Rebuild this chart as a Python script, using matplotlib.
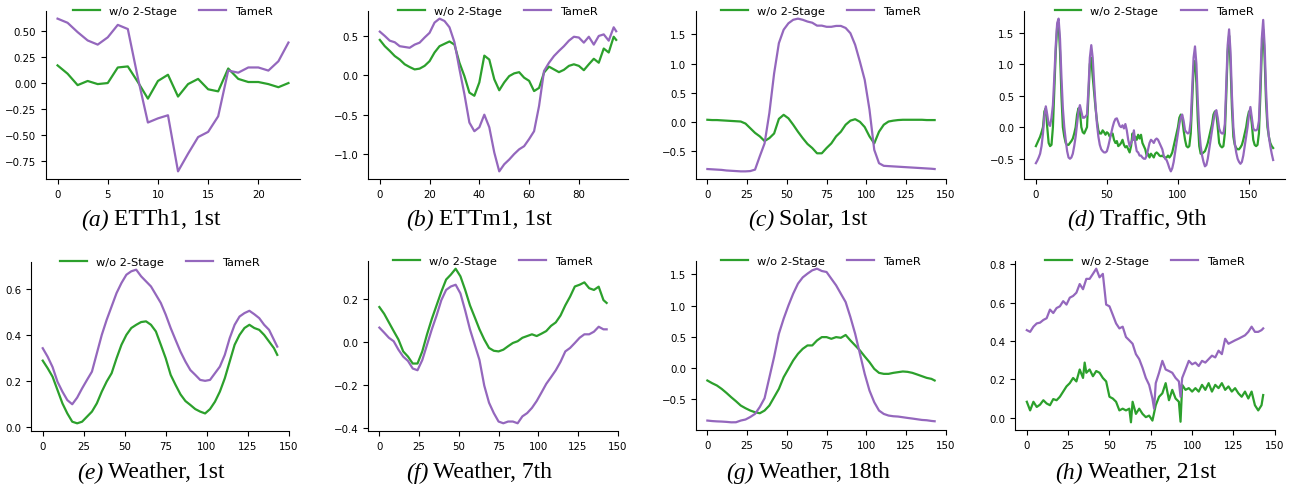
import numpy as np
import matplotlib as mpl

mpl.use("Agg")
import matplotlib.pyplot as plt
from matplotlib.ticker import MultipleLocator

# ---- data (normalised series) ----
labels = ["w/o 2-Stage", "TameR"]
captions = ["(a)", "(b)", "(c)", "(d)", "(e)", "(f)", "(g)", "(h)"]
names = ["ETTh1, 1st", "ETTm1, 1st", "Solar, 1st", "Traffic, 9th",
         "Weather, 1st", "Weather, 7th", "Weather, 18th", "Weather, 21st"]

# (a) ETTh1, 24 steps
x_a = list(range(24))
a_wo = [0.17, 0.09, -0.02, 0.02, -0.01, 0.00, 0.15, 0.16, 0.01, -0.15, 0.02, 0.08,
        -0.13, -0.01, 0.04, -0.06, -0.08, 0.14, 0.04, 0.01, 0.01, -0.01, -0.04, 0.00]
a_tamer = [0.62, 0.58, 0.49, 0.41, 0.37, 0.44, 0.56, 0.52, 0.05, -0.38, -0.34, -0.31,
           -0.85, -0.68, -0.52, -0.47, -0.32, 0.12, 0.10, 0.15, 0.15, 0.12, 0.21, 0.39]

# (b) ETTm1, 96 steps (every 2nd step)
x_b = list(range(0, 96, 2)) + [95]
b_wo = [0.45, 0.37, 0.31, 0.245, 0.20, 0.14, 0.105, 0.075, 0.085, 0.12, 0.18, 0.29,
        0.37, 0.40, 0.43, 0.39, 0.16, -0.01, -0.22, -0.26, -0.09, 0.25, 0.20, -0.05,
        -0.19, -0.09, -0.01, 0.025, 0.04, -0.03, -0.07, -0.20, -0.16, 0.035, 0.11, 0.075,
        0.04, 0.07, 0.12, 0.14, 0.12, 0.065, 0.14, 0.21, 0.16, 0.34, 0.29, 0.49, 0.45]
b_tamer = [0.555, 0.50, 0.44, 0.42, 0.37, 0.36, 0.35, 0.39, 0.415, 0.48, 0.54, 0.67,
           0.72, 0.69, 0.61, 0.42, 0.08, -0.24, -0.60, -0.71, -0.66, -0.50, -0.66, -0.98,
           -1.22, -1.13, -1.07, -1.00, -0.94, -0.90, -0.81, -0.71, -0.39, 0.055, 0.16, 0.245,
           0.31, 0.37, 0.44, 0.49, 0.48, 0.415, 0.49, 0.39, 0.50, 0.52, 0.44, 0.61, 0.56]

# shared grid for the 144-step panels (every 3rd step)
x_144 = list(range(0, 142, 3)) + [143]

# (c) Solar
c_wo = [0.035, 0.03, 0.03, 0.025, 0.02, 0.015, 0.01, 0.005, -0.03, -0.11, -0.19, -0.25,
        -0.33, -0.28, -0.20, 0.05, 0.12, 0.06, -0.05, -0.17, -0.28, -0.38, -0.45, -0.54,
        -0.54, -0.45, -0.37, -0.25, -0.17, -0.05, 0.02, 0.045, 0.0, -0.09, -0.25, -0.37,
        -0.17, -0.05, 0.005, 0.02, 0.03, 0.035, 0.035, 0.035, 0.035, 0.035, 0.03, 0.03, 0.03]
c_tamer = [-0.81, -0.815, -0.82, -0.825, -0.835, -0.84, -0.845, -0.85, -0.85, -0.845, -0.82,
           -0.59, -0.37, 0.15, 0.83, 1.35, 1.58, 1.69, 1.75, 1.77, 1.75, 1.72, 1.70, 1.65,
           1.65, 1.63, 1.63, 1.645, 1.645, 1.61, 1.52, 1.32, 1.03, 0.72, 0.21, -0.48, -0.71,
           -0.755, -0.76, -0.765, -0.77, -0.775, -0.78, -0.785, -0.79, -0.795, -0.80, -0.805,
           -0.81]

# (d) Traffic, 168 steps
x_d = list(range(168))
d_wo = [-0.30, -0.25, -0.20, -0.15, -0.08, 0.00, 0.25, 0.30, 0.00, -0.25, -0.30, -0.28,
        0.00, 0.60, 1.20, 1.60, 1.65, 1.20, 0.50, 0.00, -0.15, -0.25, -0.28, -0.28,
        -0.25, -0.22, -0.18, -0.10, 0.00, 0.20, 0.30, 0.25, 0.00, -0.08, -0.10, -0.05,
        0.00, 0.50, 1.00, 1.10, 0.80, 0.55, 0.30, 0.10, -0.05, -0.10, -0.10, -0.05,
        -0.08, -0.12, -0.08, -0.10, -0.15, -0.12, -0.10, -0.20, -0.25, -0.22, -0.30, -0.28,
        -0.25, -0.20, -0.28, -0.32, -0.30, -0.35, -0.40, -0.30, -0.10, -0.20, -0.15, -0.20,
        -0.12, -0.18, -0.12, -0.25, -0.30, -0.35, -0.45, -0.42, -0.48, -0.42, -0.45, -0.48,
        -0.42, -0.40, -0.42, -0.45, -0.46, -0.45, -0.47, -0.48, -0.48, -0.45, -0.48, -0.45,
        -0.40, -0.30, -0.20, -0.10, 0.00, 0.15, 0.20, 0.15, -0.05, -0.20, -0.30, -0.32,
        -0.30, -0.10, 0.40, 0.95, 1.05, 0.70, 0.10, -0.30, -0.42, -0.42, -0.40, -0.38,
        -0.32, -0.25, -0.15, -0.05, 0.05, 0.20, 0.25, 0.22, 0.00, -0.25, -0.30, -0.32,
        -0.30, -0.10, 0.50, 1.20, 1.45, 1.00, 0.30, -0.15, -0.28, -0.33, -0.35, -0.35,
        -0.32, -0.28, -0.20, -0.10, 0.00, 0.15, 0.25, 0.25, 0.05, -0.20, -0.28, -0.30,
        -0.28, -0.10, 0.50, 1.20, 1.55, 1.10, 0.40, 0.00, -0.15, -0.25, -0.30, -0.33]
d_tamer = [-0.57, -0.53, -0.48, -0.42, -0.30, -0.10, 0.18, 0.33, 0.20, 0.05, 0.02, 0.15,
           0.35, 0.80, 1.30, 1.65, 1.72, 1.40, 0.80, 0.30, 0.00, -0.20, -0.38, -0.48,
           -0.50, -0.48, -0.42, -0.30, -0.15, 0.05, 0.25, 0.35, 0.25, 0.15, 0.15, 0.17,
           0.20, 0.60, 1.10, 1.30, 1.10, 0.70, 0.35, 0.05, -0.15, -0.28, -0.35, -0.38,
           -0.40, -0.40, -0.38, -0.30, -0.20, -0.10, 0.00, 0.08, 0.13, 0.14, 0.08, 0.02,
           0.00, 0.03, -0.02, 0.05, -0.05, -0.20, -0.30, -0.25, -0.20, -0.05, -0.25, -0.38,
           -0.40, -0.45, -0.45, -0.48, -0.50, -0.50, -0.45, -0.35, -0.25, -0.20, -0.22, -0.25,
           -0.20, -0.18, -0.20, -0.25, -0.30, -0.35, -0.45, -0.50, -0.52, -0.58, -0.65, -0.70,
           -0.65, -0.55, -0.40, -0.25, -0.10, 0.05, 0.15, 0.20, 0.10, -0.05, -0.08, -0.10,
           -0.08, 0.10, 0.60, 1.10, 1.28, 1.00, 0.40, -0.05, -0.30, -0.45, -0.55, -0.62,
           -0.60, -0.50, -0.35, -0.20, -0.05, 0.10, 0.22, 0.27, 0.15, -0.02, -0.08, -0.10,
           -0.10, 0.05, 0.70, 1.30, 1.55, 1.20, 0.50, 0.00, -0.25, -0.40, -0.50, -0.55,
           -0.58, -0.55, -0.45, -0.30, -0.15, 0.00, 0.20, 0.32, 0.15, -0.02, -0.05, -0.05,
           -0.03, 0.10, 0.70, 1.40, 1.70, 1.30, 0.60, 0.10, -0.15, -0.30, -0.42, -0.52]

# (e) Weather, 1st
e_wo = [0.288, 0.255, 0.218, 0.16, 0.102, 0.058, 0.022, 0.015, 0.022, 0.044, 0.066, 0.102,
        0.153, 0.197, 0.233, 0.298, 0.357, 0.40, 0.43, 0.444, 0.456, 0.459, 0.444, 0.415,
        0.357, 0.298, 0.226, 0.182, 0.141, 0.112, 0.095, 0.077, 0.066, 0.058, 0.077, 0.109,
        0.153, 0.211, 0.284, 0.357, 0.40, 0.43, 0.444, 0.43, 0.422, 0.40, 0.371, 0.342, 0.313]
e_tamer = [0.342, 0.305, 0.26, 0.196, 0.153, 0.116, 0.098, 0.127, 0.167, 0.204, 0.24, 0.32,
           0.40, 0.466, 0.524, 0.582, 0.626, 0.662, 0.677, 0.684, 0.655, 0.633, 0.611, 0.575,
           0.539, 0.488, 0.43, 0.378, 0.327, 0.284, 0.247, 0.226, 0.204, 0.20, 0.204, 0.233,
           0.262, 0.313, 0.386, 0.444, 0.48, 0.495, 0.505, 0.49, 0.473, 0.444, 0.422, 0.378,
           0.349]

# (f) Weather, 7th
f_wo = [0.161, 0.13, 0.09, 0.05, 0.011, -0.044, -0.068, -0.10, -0.10, -0.044, 0.035, 0.106,
        0.169, 0.232, 0.288, 0.311, 0.338, 0.303, 0.24, 0.169, 0.114, 0.058, 0.011, -0.028,
        -0.041, -0.044, -0.036, -0.02, -0.005, 0.003, 0.019, 0.027, 0.035, 0.027, 0.038, 0.05,
        0.074, 0.09, 0.122, 0.169, 0.209, 0.256, 0.264, 0.275, 0.248, 0.24, 0.255, 0.193, 0.18]
f_tamer = [0.066, 0.043, 0.019, 0.003, -0.036, -0.068, -0.088, -0.123, -0.131, -0.084, -0.013,
           0.058, 0.122, 0.193, 0.24, 0.256, 0.264, 0.224, 0.145, 0.058, -0.013, -0.084,
           -0.202, -0.281, -0.329, -0.368, -0.376, -0.368, -0.368, -0.376, -0.344, -0.329,
           -0.305, -0.273, -0.234, -0.194, -0.163, -0.131, -0.092, -0.044, -0.028, -0.005,
           0.019, 0.035, 0.035, 0.047, 0.07, 0.058, 0.058]

# (g) Weather, 18th
g_wo = [-0.197, -0.24, -0.277, -0.331, -0.395, -0.464, -0.528, -0.597, -0.64, -0.677, -0.704,
        -0.72, -0.677, -0.597, -0.464, -0.331, -0.144, -0.011, 0.123, 0.229, 0.309, 0.363,
        0.363, 0.443, 0.496, 0.496, 0.469, 0.496, 0.485, 0.53, 0.443, 0.363, 0.283, 0.187,
        0.096, -0.011, -0.075, -0.091, -0.091, -0.075, -0.064, -0.053, -0.059, -0.075, -0.101,
        -0.128, -0.155, -0.171, -0.197]
g_tamer = [-0.837, -0.845, -0.85, -0.853, -0.858, -0.865, -0.864, -0.837, -0.82, -0.78, -0.73,
           -0.62, -0.48, -0.15, 0.18, 0.55, 0.79, 1.0, 1.19, 1.35, 1.45, 1.51, 1.563, 1.589,
           1.552, 1.536, 1.429, 1.323, 1.189, 1.056, 0.816, 0.549, 0.229, -0.091, -0.357,
           -0.544, -0.677, -0.731, -0.757, -0.768, -0.773, -0.784, -0.795, -0.805, -0.816,
           -0.827, -0.832, -0.843, -0.848]

# (h) Weather, 21st (noisy, own grids)
x_h_wo = (list(range(0, 35, 2)) + [35] + list(range(36, 63, 2)) + [63]
          + list(range(64, 93, 2)) + [93] + list(range(94, 143, 2)) + [143])
h_wo = [0.084, 0.039, 0.084, 0.057, 0.069, 0.092, 0.075, 0.066, 0.098, 0.092, 0.11, 0.137,
        0.164, 0.181, 0.208, 0.19, 0.252, 0.208, 0.288, 0.235, 0.252, 0.217, 0.244, 0.235,
        0.208, 0.19, 0.11, 0.101, 0.084, 0.039, 0.048, 0.039, 0.048, -0.023, 0.084, 0.021,
        0.048, 0.021, 0.004, 0.012, -0.014, 0.066, 0.11, 0.128, 0.181, 0.092, 0.146, 0.101,
        0.084, -0.02, 0.172, 0.146, 0.155, 0.137, 0.155, 0.137, 0.172, 0.146, 0.181, 0.137,
        0.172, 0.155, 0.181, 0.146, 0.164, 0.137, 0.155, 0.128, 0.11, 0.137, 0.101, 0.137,
        0.066, 0.039, 0.066, 0.119]
x_h_tamer = (list(range(0, 77, 2)) + [77] + list(range(78, 93, 2)) + [93]
             + list(range(94, 143, 2)) + [143])
h_tamer = [0.457, 0.448, 0.475, 0.492, 0.496, 0.51, 0.519, 0.564, 0.546, 0.572, 0.581, 0.608,
           0.59, 0.626, 0.635, 0.652, 0.697, 0.67, 0.724, 0.724, 0.75, 0.777, 0.732, 0.75,
           0.59, 0.581, 0.537, 0.492, 0.466, 0.475, 0.421, 0.404, 0.386, 0.332, 0.306, 0.261,
           0.208, 0.172, 0.101, 0.048, 0.181, 0.235, 0.297, 0.252, 0.244, 0.235, 0.208, 0.19,
           0.11, 0.208, 0.252, 0.297, 0.279, 0.288, 0.27, 0.297, 0.288, 0.306, 0.324, 0.315,
           0.35, 0.332, 0.412, 0.386, 0.395, 0.404, 0.412, 0.421, 0.43, 0.448, 0.475, 0.448,
           0.448, 0.457, 0.466]

# ---- layout ----
W, H = 1294, 489
GREEN, PURPLE = "#2ca02c", "#9467bd"


def px_rect(left, right, top, bottom):
    return [left / W, 1 - bottom / H, (right - left) / W, (bottom - top) / H]


panels = [
    # rect, wo (x, y), tamer (x, y), x step, y step, caption centre
    (px_rect(46, 300, 12, 180), x_a, a_wo, x_a, a_tamer, 5, 0.25, (151, 220)),
    (px_rect(368, 628, 12, 180), x_b, b_wo, x_b, b_tamer, 20, 0.5, (479, 220)),
    (px_rect(696, 946, 12, 180), x_144, c_wo, x_144, c_tamer, 25, 0.5, (808, 220)),
    (px_rect(1024, 1285, 12, 180), x_d, d_wo, x_d, d_tamer, 50, 0.5, (1137, 220)),
    (px_rect(31, 289, 263, 432), x_144, e_wo, x_144, e_tamer, 25, 0.2, (151, 473)),
    (px_rect(368, 618, 262, 432), x_144, f_wo, x_144, f_tamer, 25, 0.2, (479, 473)),
    (px_rect(696, 946, 262, 431), x_144, g_wo, x_144, g_tamer, 25, 0.5, (808, 473)),
    (px_rect(1015, 1275, 262, 431), x_h_wo, h_wo, x_h_tamer, h_tamer, 25, 0.2, (1136, 473)),
]

fig = plt.figure(figsize=(W / 100, H / 100), dpi=100)
renderer = fig.canvas.get_renderer()

for k, (rect, xw, yw, xt, yt, xstep, ystep, cpos) in enumerate(panels):
    ax = fig.add_axes(rect)
    ax.plot(xw, yw, color=GREEN, lw=1.6, label=labels[0])
    ax.plot(xt, yt, color=PURPLE, lw=1.6, label=labels[1])
    ax.xaxis.set_major_locator(MultipleLocator(xstep))
    ax.yaxis.set_major_locator(MultipleLocator(ystep))
    ax.spines[["top", "right"]].set_visible(False)
    ax.tick_params(labelsize=7.4)
    ax.legend(loc="center", bbox_to_anchor=(0.5, 1.0), ncol=2, frameon=False,
              fontsize=8.2, handlelength=2.3, borderaxespad=0)

    # caption: italic "(x)" followed by upright name, centred as one line
    t1 = fig.text(0, 0, captions[k], style="italic", fontsize=17,
                  family="Liberation Serif", va="center")
    t2 = fig.text(0, 0, names[k], fontsize=17, family="Liberation Serif", va="center")
    w1 = t1.get_window_extent(renderer).width
    w2 = t2.get_window_extent(renderer).width
    gap = 5
    x0 = cpos[0] - (w1 + gap + w2) / 2
    yf = 1 - cpos[1] / H
    t1.set_position((x0 / W, yf))
    t2.set_position(((x0 + w1 + gap) / W, yf))

fig.savefig("out.png", dpi=100)
